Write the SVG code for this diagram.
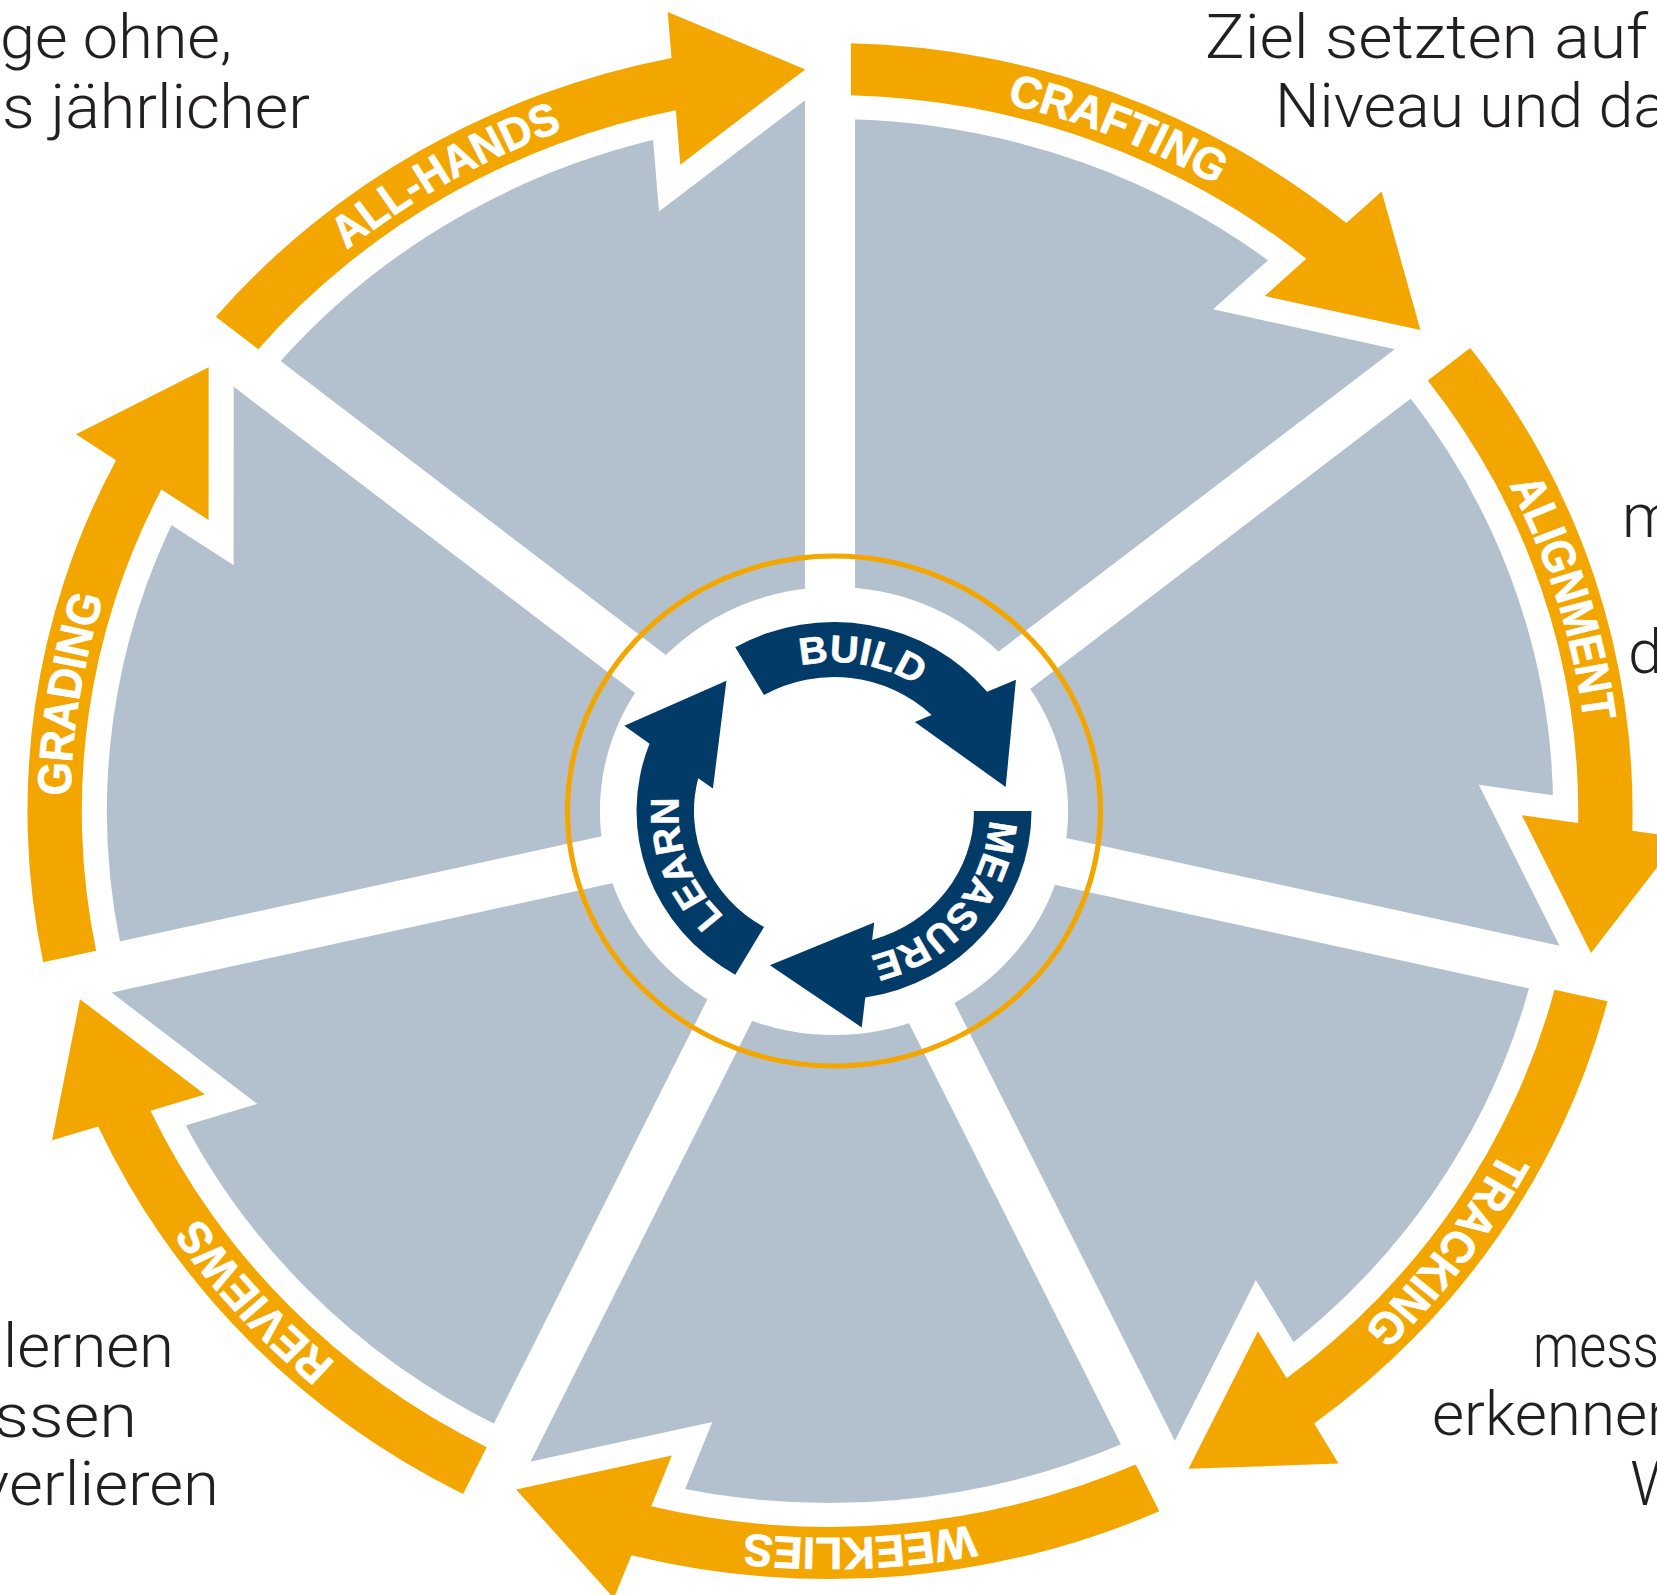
<svg xmlns="http://www.w3.org/2000/svg" xmlns:xlink="http://www.w3.org/1999/xlink" width="1657" height="1595" viewBox="0 0 1657 1595">
<style>
.gray{fill:#b3c1cf}
.gap{fill:#ffffff}
.halo{fill:none;stroke:#ffffff;stroke-width:48;stroke-linejoin:miter;stroke-miterlimit:4}
.band{fill:#f4a600}
.navy{fill:#023a68}
.olbl{font-family:"Liberation Sans",Arial,sans-serif;font-weight:bold;font-size:45px;fill:#ffffff;stroke:#ffffff;stroke-width:0.8}
.nlbl{font-family:"Liberation Sans",Arial,sans-serif;font-weight:bold;font-size:38px;fill:#ffffff;stroke:#ffffff;stroke-width:0.6}
.side{font-family:Roboto,"Liberation Sans",sans-serif;font-weight:300;font-size:62px;fill:#231f20}
</style>
<defs>
<path id="sector" d="M0,-200 L0,-716 A716,716 0 0 1 559.8,-446.4 L156.4,-124.7 A200,200 0 0 0 0,-200 Z"/>
<rect id="gapstrip" x="-24" y="-800" width="48" height="800"/>
<path id="oarrow" d="M20,-715.7 L20,-767.7 A768,768 0 0 1 494.1,-588.0 L527.9,-619.6 L565.0,-480.9 L416.0,-515.0 L455.8,-552.2 A716,716 0 0 0 20,-715.7 Z"/>
<path id="otext" d="M-101.2,-719.9 A727,727 0 0 1 572.9,-447.6"/>
<path id="narrow" d="M-67,-116 L-94.5,-163.7 A189,189 0 0 1 146.6,-119.2 L174.1,-131.2 L164.3,-24 L77.4,-89.1 L93.4,-96.1 A134,134 0 0 0 -67,-116 Z"/>
<path id="ntext" d="M-129,-74.5 A149,149 0 0 1 146.7,-25.9"/>
</defs>
<rect width="1657" height="1595" fill="#ffffff"/>
<g id="wheel" transform="translate(830,811) scale(1.045,1)">
  <g id="sectors">
    <use href="#sector" class="gray"/>
    <use href="#sector" class="gray" transform="rotate(51.4286)"/>
    <use href="#sector" class="gray" transform="rotate(102.8571)"/>
    <use href="#sector" class="gray" transform="rotate(154.2857)"/>
    <use href="#sector" class="gray" transform="rotate(205.7143)"/>
    <use href="#sector" class="gray" transform="rotate(257.1429)"/>
    <use href="#sector" class="gray" transform="rotate(308.5714)"/>
  </g>
  <g id="gaps">
    <use href="#gapstrip" class="gap"/>
    <use href="#gapstrip" class="gap" transform="rotate(51.4286)"/>
    <use href="#gapstrip" class="gap" transform="rotate(102.8571)"/>
    <use href="#gapstrip" class="gap" transform="rotate(154.2857)"/>
    <use href="#gapstrip" class="gap" transform="rotate(205.7143)"/>
    <use href="#gapstrip" class="gap" transform="rotate(257.1429)"/>
    <use href="#gapstrip" class="gap" transform="rotate(308.5714)"/>
  </g>
  <g id="connectors">
    <use href="#oarrow" class="halo"/>
    <use href="#oarrow" class="halo" transform="rotate(51.4286)"/>
    <use href="#oarrow" class="halo" transform="rotate(102.8571)"/>
    <use href="#oarrow" class="halo" transform="rotate(154.2857)"/>
    <use href="#oarrow" class="halo" transform="rotate(205.7143)"/>
    <use href="#oarrow" class="halo" transform="rotate(257.1429)"/>
    <use href="#oarrow" class="halo" transform="rotate(308.5714)"/>
  </g>
  <g id="node-crafting">
    <use href="#oarrow" class="band"/>
    <text class="olbl"><textPath href="#otext" startOffset="50%" text-anchor="middle" textLength="217" lengthAdjust="spacingAndGlyphs">CRAFTING</textPath></text>
  </g>
  <g id="node-alignment" transform="rotate(51.4286)">
    <use href="#oarrow" class="band"/>
    <text class="olbl"><textPath href="#otext" startOffset="49.5%" text-anchor="middle" textLength="248" lengthAdjust="spacingAndGlyphs">ALIGNMENT</textPath></text>
  </g>
  <g id="node-tracking" transform="rotate(102.8571)">
    <use href="#oarrow" class="band"/>
    <text class="olbl"><textPath href="#otext" startOffset="53%" text-anchor="middle" textLength="222" lengthAdjust="spacingAndGlyphs">TRACKING</textPath></text>
  </g>
  <g id="node-weeklies" transform="rotate(154.2857)">
    <use href="#oarrow" class="band"/>
    <text class="olbl"><textPath href="#otext" startOffset="52.5%" text-anchor="middle" textLength="219" lengthAdjust="spacingAndGlyphs">WEEKLIES</textPath></text>
  </g>
  <g id="node-reviews" transform="rotate(205.7143)">
    <use href="#oarrow" class="band"/>
    <text class="olbl"><textPath href="#otext" startOffset="51%" text-anchor="middle" textLength="196" lengthAdjust="spacingAndGlyphs">REVIEWS</textPath></text>
  </g>
  <g id="node-grading" transform="rotate(257.1429)">
    <use href="#oarrow" class="band"/>
    <text class="olbl"><textPath href="#otext" startOffset="50%" text-anchor="middle" textLength="202" lengthAdjust="spacingAndGlyphs">GRADING</textPath></text>
  </g>
  <g id="node-allhands" transform="rotate(308.5714)">
    <use href="#oarrow" class="band"/>
    <text class="olbl"><textPath href="#otext" startOffset="49%" text-anchor="middle" textLength="240" lengthAdjust="spacingAndGlyphs">ALL-HANDS</textPath></text>
  </g>
</g>
<g id="hub" transform="translate(834,811) scale(1.045,1)">
  <circle r="224" fill="#ffffff"/>
  <circle r="255" fill="none" stroke="#f4a600" stroke-width="5"/>
  <g id="node-build">
    <use href="#narrow" class="navy"/>
    <text class="nlbl"><textPath href="#ntext" startOffset="50%" text-anchor="middle">BUILD</textPath></text>
  </g>
  <g id="node-measure" transform="rotate(120)">
    <use href="#narrow" class="navy"/>
    <text class="nlbl"><textPath href="#ntext" startOffset="50%" text-anchor="middle">MEASURE</textPath></text>
  </g>
  <g id="node-learn" transform="rotate(240)">
    <use href="#narrow" class="navy"/>
    <text class="nlbl"><textPath href="#ntext" startOffset="50%" text-anchor="middle">LEARN</textPath></text>
  </g>
</g>
<g id="side-texts" class="side">
  <text x="0" y="58" textLength="232" lengthAdjust="spacingAndGlyphs">ge ohne,</text>
  <text x="2" y="128" textLength="308" lengthAdjust="spacingAndGlyphs">s jährlicher</text>
  <text x="1205" y="58" textLength="443" lengthAdjust="spacingAndGlyphs">Ziel setzten auf</text>
  <text x="1275" y="127" textLength="392" lengthAdjust="spacingAndGlyphs">Niveau und da</text>
  <text x="1622" y="537">m</text>
  <text x="1628" y="673">d</text>
  <text x="1533" y="1367" textLength="126" lengthAdjust="spacingAndGlyphs">mess</text>
  <text x="1432" y="1435">erkennen</text>
  <text x="1630" y="1505">W</text>
  <text x="3" y="1367" textLength="171" lengthAdjust="spacingAndGlyphs">lernen</text>
  <text x="-6" y="1437" textLength="143" lengthAdjust="spacingAndGlyphs">ssen</text>
  <text x="-22" y="1505" textLength="241" lengthAdjust="spacingAndGlyphs">verlieren</text>
</g>
</svg>
